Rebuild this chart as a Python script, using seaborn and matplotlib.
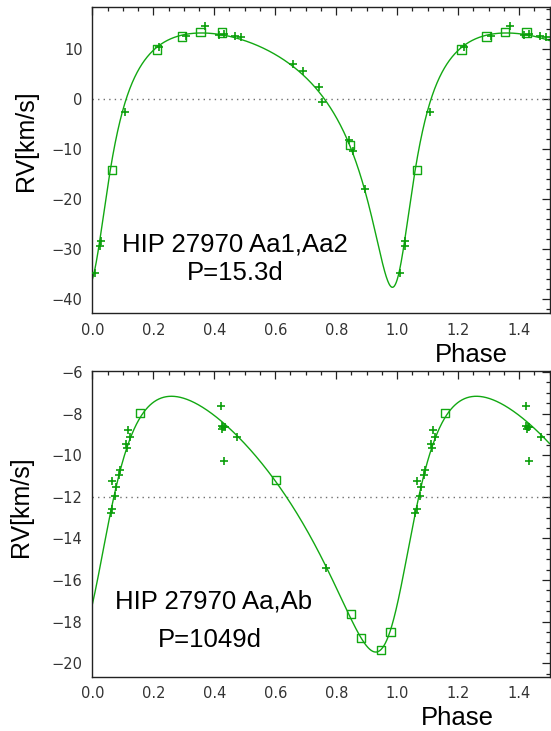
import numpy as np
import pandas as pd
import matplotlib
matplotlib.use("Agg")
import matplotlib.pyplot as plt
from matplotlib.ticker import MultipleLocator
import seaborn as sns

# ---------------- data ----------------
# Top panel: HIP 27970 Aa1,Aa2  (P = 15.3 d)
top_sq_phase = [0.064, 0.211, 0.293, 0.355, 0.424, 0.845]
top_sq_rv = [-14.3, 9.9, 12.5, 13.4, 13.3, -9.2]
top_pl_phase = [0.009, 0.025, 0.027, 0.107, 0.219, 0.307, 0.370, 0.415, 0.432,
                0.468, 0.488, 0.659, 0.692, 0.744, 0.755, 0.843, 0.854, 0.896]
top_pl_rv = [-34.9, -29.5, -28.5, -2.7, 10.3, 12.6, 14.6, 12.8, 12.9,
             12.5, 12.3, 7.0, 5.5, 2.3, -0.6, -8.2, -10.4, -18.1]
# orbital elements of the fitted curve: K, e, omega(deg), V0, T0(phase)
top_orbit = [25.45, 0.512, 200.0, 0.0, 0.0]

# Bottom panel: HIP 27970 Aa,Ab  (P = 1049 d)
bot_sq_phase = [0.156, 0.604, 0.848, 0.880, 0.946, 0.978]
bot_sq_rv = [-7.95, -11.18, -17.64, -18.81, -19.37, -18.49]
bot_pl_phase = [0.060, 0.064, 0.064, 0.074, 0.077, 0.088, 0.091, 0.110, 0.113,
                0.118, 0.124, 0.421, 0.424, 0.426, 0.430, 0.434, 0.433, 0.473, 0.765]
bot_pl_rv = [-12.76, -12.58, -11.25, -11.94, -11.55, -10.93, -10.73, -9.45, -9.64,
             -8.80, -9.13, -7.65, -8.58, -8.72, -8.66, -8.62, -10.28, -9.13, -15.42]
bot_orbit = [6.15, 0.34, 231.0, -12.0, 0.0]

top_title = ["HIP 27970 Aa1,Aa2", "P=15.3d"]
bot_title = ["HIP 27970 Aa,Ab", "P=1049d"]

GREEN = "#12A812"


def kepler_rv(phase, orbit):
    K, e, w, v0, t0 = orbit
    M = 2 * np.pi * (np.asarray(phase) - t0)
    E = M.copy()
    for _ in range(60):
        E = E - (E - e * np.sin(E) - M) / (1 - e * np.cos(E))
    nu = 2 * np.arctan2(np.sqrt(1 + e) * np.sin(E / 2), np.sqrt(1 - e) * np.cos(E / 2))
    wr = np.radians(w)
    return v0 + K * (np.cos(nu + wr) + e * np.cos(wr))


def repeat(ph, rv):
    ph = np.asarray(ph)
    rv = np.asarray(rv)
    m = ph + 1 <= 1.5
    return np.concatenate([ph, ph[m] + 1]), np.concatenate([rv, rv[m]])


sns.set_style("white")
plt.rcParams["font.family"] = ["DejaVu Sans"]
plt.rcParams["text.color"] = "black"

fig = plt.figure(figsize=(5.51, 7.31), dpi=100)
ax1 = fig.add_axes([0.1675, 0.5714, 0.830, 0.419])
ax2 = fig.add_axes([0.1675, 0.0743, 0.830, 0.4182])

# text positions (axes fraction): (x1, y1, x2, y2)
panels = [
    (ax1, top_sq_phase, top_sq_rv, top_pl_phase, top_pl_rv, top_orbit, (-42.9, 18.4),
     10, 2, top_title, (0.312, 0.225, 0.312, 0.132)),
    (ax2, bot_sq_phase, bot_sq_rv, bot_pl_phase, bot_pl_rv, bot_orbit, (-20.65, -5.95),
     2, 0.5, bot_title, (0.266, 0.245, 0.257, 0.120)),
]

for (ax, sqp, sqv, plp, plv, orbit, ylim, major, minor, title, tpos) in panels:
    grid = np.linspace(0, 1.5, 1501)
    curve = pd.DataFrame({"phase": grid, "rv": kepler_rv(grid, orbit)})
    ax.axhline(orbit[3], color="#707070", linestyle=(0, (1, 3)), linewidth=1.0, zorder=1)
    sns.lineplot(data=curve, x="phase", y="rv", ax=ax, color=GREEN, linewidth=1.0,
                 sort=False, estimator=None, zorder=2)
    x, y = repeat(sqp, sqv)
    sns.scatterplot(x=x, y=y, ax=ax, marker="s", s=34, facecolor="none",
                    edgecolor=GREEN, linewidth=1.0, zorder=3)
    x, y = repeat(plp, plv)
    sns.scatterplot(x=x, y=y, ax=ax, marker="+", s=38, color="#0A9E0A",
                    linewidth=1.2, zorder=3)

    ax.set_xlim(0, 1.5)
    ax.set_ylim(*ylim)
    ax.xaxis.set_major_locator(MultipleLocator(0.2))
    ax.xaxis.set_minor_locator(MultipleLocator(0.05))
    ax.yaxis.set_major_locator(MultipleLocator(major))
    ax.yaxis.set_minor_locator(MultipleLocator(minor))
    ax.xaxis.set_major_formatter(matplotlib.ticker.FormatStrFormatter("%.1f"))
    ax.tick_params(which="both", direction="in", top=True, right=True,
                   labelsize=10.5, colors="#222222", labelcolor="#333333")
    ax.tick_params(which="major", length=5.5, width=0.9, pad=7)
    ax.tick_params(which="minor", length=2.8, width=0.9)
    for sp in ax.spines.values():
        sp.set_visible(True)
        sp.set_color("#222222")
        sp.set_linewidth(1.0)
    ax.set_xlabel("")
    ax.set_ylabel("")
    ax.text(tpos[0], tpos[1], title[0], transform=ax.transAxes, color="black",
            ha="center", va="center", fontsize=18.5, family="Liberation Sans")
    ax.text(tpos[2], tpos[3], title[1], transform=ax.transAxes, color="black",
            ha="center", va="center", fontsize=18.5, family="Liberation Sans")

# axis labels
fig.text(26 / 551, 1 - 141 / 731, "RV[km/s]", rotation=90, ha="center", va="center",
         fontsize=18, family="Liberation Sans", color="black")
fig.text(21 / 551, 1 - 507 / 731, "RV[km/s]", rotation=90, ha="center", va="center",
         fontsize=18, family="Liberation Sans", color="black")
fig.text(471 / 551, 1 - 355 / 731, "Phase", ha="center", va="center",
         fontsize=18.5, family="Liberation Sans", color="black")
fig.text(457 / 551, 1 - 718 / 731, "Phase", ha="center", va="center",
         fontsize=18.5, family="Liberation Sans", color="black")

fig.savefig("out.png", dpi=100, facecolor="white")
